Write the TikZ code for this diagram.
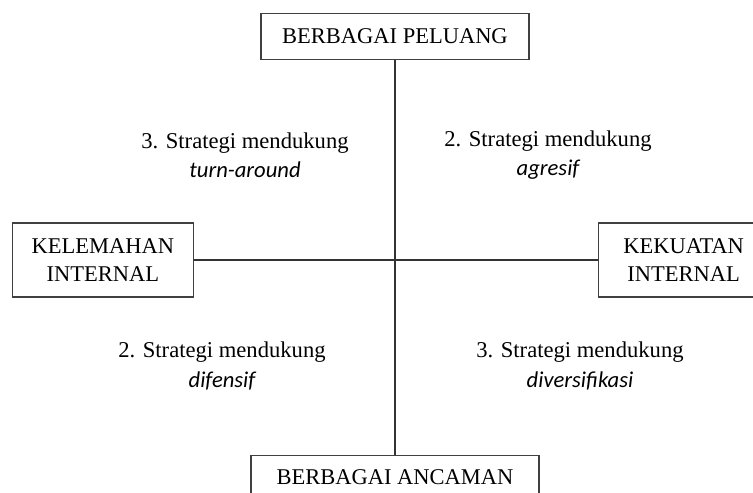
\documentclass[tikz,border=0pt]{standalone}
\usepackage{fontspec}
\setmainfont{Liberation Serif}
\newfontfamily\carlito{Carlito}
\usetikzlibrary{positioning}

\begin{document}
\begin{tikzpicture}[
    box/.style={rectangle, draw=black!75, line width=1.1pt, align=center, inner sep=0pt, font=\fontsize{19.2}{24.5}\selectfont},
    strat/.style={align=center, font=\fontsize{19.3}{25}\selectfont},
    axis/.style={draw=black!80, line width=1.1pt}
]
\useasboundingbox (-11.85,-6.99) rectangle (10.74,7.8);

\coordinate (c) at (0,0);

\node[box, minimum width=8.04cm, minimum height=1.38cm, above=6cm of c] (peluang) {BERBAGAI PELUANG};
\node[box, minimum width=8.64cm, minimum height=1.32cm, below=5.85cm of c] (ancaman) {BERBAGAI ANCAMAN};
\node[box, minimum width=5.43cm, minimum height=2.22cm, left=6.03cm of c] (kelemahan) {KELEMAHAN\\INTERNAL};
\node[box, minimum width=5.1cm, minimum height=2.22cm, right=6.09cm of c] (kekuatan) {KEKUATAN\\INTERNAL};

\draw[axis] (peluang) -- (ancaman);
\draw[axis] (kelemahan) -- (kekuatan);

\node[strat] (turnaround) at (-4.5,3.15) {3. Strategi mendukung\\{\carlito\itshape turn-around}};
\node[strat] (agresif) at (4.59,3.15) {2. Strategi mendukung\\{\carlito\itshape agresif}};
\node[strat] (difensif) at (-5.19,-3.18) {2. Strategi mendukung\\{\carlito\itshape difensif}};
\node[strat] (diversifikasi) at (5.55,-3.18) {3. Strategi mendukung\\{\carlito\itshape diversifikasi}};

\end{tikzpicture}
\end{document}
